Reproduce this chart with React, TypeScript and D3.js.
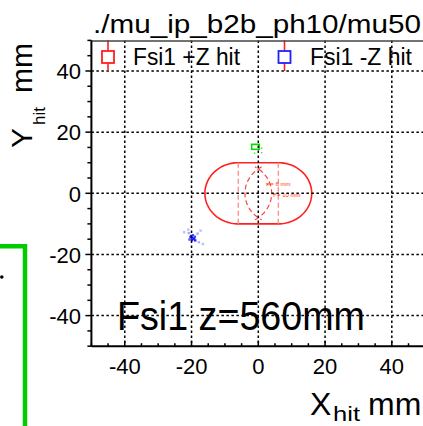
import React from "react";
import * as d3 from "d3";

const W = 423;
const H = 426;

// Axis ticks
const majorTicks = [-40, -20, 0, 20, 40];
const minorTicks = [-50, -45, -35, -30, -25, -15, -10, -5, 5, 10, 15, 25, 30, 35, 45, 50];
const xTickLabels = ["-40", "-20", "0", "20", "40"];
const yTickLabels = ["40", "20", "0", "-20", "-40"];

// Hits on the -Z side (blue)
const blueX = [-20.3, -19.8, -19.5, -19.9, -19.2, -20.1, -18.9, -19.6, -20.6, -19.0, -22.2, -17.3, -16.6, -21.0, -18.2, -17.8, -20.8];
const blueY = [-14.3, -14.6, -15.0, -15.3, -14.8, -14.0, -15.4, -13.7, -15.1, -14.2, -12.7, -12.2, -16.6, -11.9, -13.2, -16.0, -13.0];
const blueW = [1, 1, 1, 1, 1, 1, 1, 0.8, 0.8, 0.8, 0.3, 0.3, 0.3, 0.3, 0.4, 0.35, 0.4];

// Hits on the +Z side (green)
const greenBoxX = [-0.85];
const greenBoxY = [15.2];
const greenDotX = [-1.1, 1.0, 1.0];
const greenDotY = [13.1, 13.3, 14.8];

// Beam pipe outline (stadium): radius and half straight length
const pipeR = 10;
const pipeHalf = 6;

export default function App() {
  const x = d3.scaleLinear().domain([-50, 50]).range([91.4, 425.2]);
  const y = d3.scaleLinear().domain([-50, 50]).range([346.2, 40.4]);

  const line = d3
    .line<[number, number]>()
    .x((d) => x(d[0]))
    .y((d) => y(d[1]));

  // stadium outline
  const stadium: [number, number][] = [];
  for (let i = 0; i <= 60; i++) {
    const t = -Math.PI / 2 + (Math.PI * i) / 60;
    stadium.push([pipeHalf + pipeR * Math.cos(t), pipeR * Math.sin(t)]);
  }
  for (let i = 0; i <= 60; i++) {
    const t = Math.PI / 2 + (Math.PI * i) / 60;
    stadium.push([-pipeHalf + pipeR * Math.cos(t), pipeR * Math.sin(t)]);
  }
  stadium.push(stadium[0]);

  const arcA: [number, number][] = [];
  const arcB: [number, number][] = [];
  for (let i = 0; i <= 40; i++) {
    const t = (2 * Math.PI) / 3 + ((2 * Math.PI) / 3) * (i / 40);
    arcA.push([pipeHalf + pipeR * Math.cos(t), pipeR * Math.sin(t)]);
    const t2 = -Math.PI / 3 + ((2 * Math.PI) / 3) * (i / 40);
    arcB.push([-pipeHalf + pipeR * Math.cos(t2), pipeR * Math.sin(t2)]);
  }

  const left = x(-50);
  const right = W;
  const top = y(50);
  const bottom = y(-50);
  const font = "'Liberation Sans', Arial, Helvetica, sans-serif";

  return (
    <svg
      width={W}
      height={H}
      style={{ position: "absolute", left: 0, top: 0, background: "#fff" }}
      fontFamily={font}
    >
      <rect x={0} y={0} width={W} height={H} fill="#fff" />

      {/* title */}
      <text x={93} y={33} fontSize={26} textLength={328} lengthAdjust="spacingAndGlyphs">
        ./mu_ip_b2b_ph10/mu50
      </text>

      {/* green frame at left */}
      <path d="M0,246.3 L25,246.3 L25,426" fill="none" stroke="#00cc00" strokeWidth={4.5} />
      <circle cx={1.8} cy={277} r={1.8} fill="#000" />

      {/* pipe outline */}
      <path d={line(stadium) || ""} fill="none" stroke="#ff2020" strokeWidth={1.6} />
      {[-pipeHalf, pipeHalf].map((v) => (
        <line
          key={v}
          x1={x(v)}
          x2={x(v)}
          y1={y(pipeR)}
          y2={y(-pipeR)}
          stroke="#ff9090"
          strokeWidth={1.4}
          strokeDasharray="5,3"
        />
      ))}
      <path d={line(arcA) || ""} fill="none" stroke="#ff4040" strokeWidth={1.2} strokeDasharray="5,3" />
      <path d={line(arcB) || ""} fill="none" stroke="#ff4040" strokeWidth={1.2} strokeDasharray="5,3" />
      <line x1={x(2.5)} x2={x(3.6)} y1={184} y2={184} stroke="#ff4000" strokeWidth={1} />
      <text x={x(2.2)} y={186} fontSize={6} fill="#ff3000">
        x = 6 mm
      </text>
      <line x1={x(4.3)} x2={x(5.4)} y1={194} y2={194} stroke="#ff4000" strokeWidth={1} />
      <text x={x(4.5)} y={196.5} fontSize={6} fill="#ff3000">
        r = 10 mm
      </text>

      {/* blue hits */}
      {blueX.map((v, i) => (
        <rect
          key={i}
          x={x(v) - 1.2}
          y={y(blueY[i]) - 1.2}
          width={2.4}
          height={2.4}
          fill="#2020ff"
          opacity={blueW[i]}
        />
      ))}

      {/* green hits */}
      {greenBoxX.map((v, i) => (
        <rect
          key={i}
          x={x(v) - 3.8}
          y={y(greenBoxY[i]) - 2.5}
          width={7.6}
          height={5}
          fill="none"
          stroke="#00dd00"
          strokeWidth={1.6}
        />
      ))}
      {greenDotX.map((v, i) => (
        <rect key={i} x={x(v) - 0.7} y={y(greenDotY[i]) - 0.7} width={1.4} height={1.4} fill="#40e040" />
      ))}

      {/* grid */}
      {majorTicks.map((t) => (
        <line
          key={"gx" + t}
          x1={x(t)}
          x2={x(t)}
          y1={top}
          y2={bottom}
          stroke="#000"
          strokeWidth={1.5}
          strokeDasharray="2.5,2.5"
        />
      ))}
      {majorTicks.map((t) => (
        <line
          key={"gy" + t}
          x1={left}
          x2={right}
          y1={y(t)}
          y2={y(t)}
          stroke="#000"
          strokeWidth={1.5}
          strokeDasharray="2.5,2.5"
        />
      ))}

      {/* legend */}
      <line x1={108} x2={108} y1={top} y2={y(40)} stroke="#ff2020" strokeWidth={1.6} />
      <rect x={102} y={51} width={12} height={12} fill="#fff" stroke="#ff2020" strokeWidth={1.8} />
      <text x={133} y={64.5} fontSize={23} textLength={107} lengthAdjust="spacingAndGlyphs">
        Fsi1 +Z hit
      </text>
      <line x1={284.5} x2={284.5} y1={top} y2={y(40)} stroke="#ff2020" strokeWidth={1.6} />
      <rect x={278.5} y={51} width={12} height={12} fill="#fff" stroke="#2020ff" strokeWidth={1.8} />
      <text x={310} y={64.5} fontSize={23} textLength={102} lengthAdjust="spacingAndGlyphs">
        Fsi1 -Z hit
      </text>

      {/* frame */}
      <line x1={left} x2={right} y1={top + 0.5} y2={top + 0.5} stroke="#444" strokeWidth={1.5} />
      <line x1={left} x2={left} y1={top} y2={bottom} stroke="#000" strokeWidth={2} />
      <line x1={left} x2={right} y1={bottom} y2={bottom} stroke="#000" strokeWidth={2} />

      {/* ticks */}
      {majorTicks.map((t) => (
        <line key={"ty" + t} x1={left - 6} x2={left} y1={y(t)} y2={y(t)} stroke="#000" strokeWidth={1.5} />
      ))}
      {minorTicks.map((t) => (
        <line key={"tym" + t} x1={left - 4} x2={left} y1={y(t)} y2={y(t)} stroke="#000" strokeWidth={1.5} />
      ))}
      {majorTicks.map((t) => (
        <line key={"tx" + t} x1={x(t)} x2={x(t)} y1={bottom} y2={bottom - 5} stroke="#000" strokeWidth={1.5} />
      ))}
      {minorTicks.map((t) => (
        <line key={"txm" + t} x1={x(t)} x2={x(t)} y1={bottom} y2={bottom - 3} stroke="#000" strokeWidth={1.5} />
      ))}

      {/* tick labels */}
      {majorTicks.map((t, i) => (
        <text key={"lx" + t} x={x(t)} y={373.5} fontSize={22} textAnchor="middle">
          {xTickLabels[i]}
        </text>
      ))}
      {[40, 20, 0, -20, -40].map((t, i) => (
        <text key={"ly" + t} x={81} y={y(t) + 8.3} fontSize={22} textAnchor="end">
          {yTickLabels[i]}
        </text>
      ))}

      {/* big annotation */}
      <text x={117} y={330} fontSize={41} textLength={248} lengthAdjust="spacingAndGlyphs">
        Fsi1 z=560mm
      </text>

      {/* axis titles */}
      <text x={310} y={415} fontSize={32}>
        X
      </text>
      <text x={333} y={421} fontSize={20} textLength={27} lengthAdjust="spacingAndGlyphs">
        hit
      </text>
      <text x={368} y={415} fontSize={32}>
        mm
      </text>
      <text transform="translate(32,148) rotate(-90)" fontSize={30}>
        Y
      </text>
      <text transform="translate(45,125) rotate(-90)" fontSize={17}>
        hit
      </text>
      <text transform="translate(32,93) rotate(-90)" fontSize={30}>
        mm
      </text>
    </svg>
  );
}
